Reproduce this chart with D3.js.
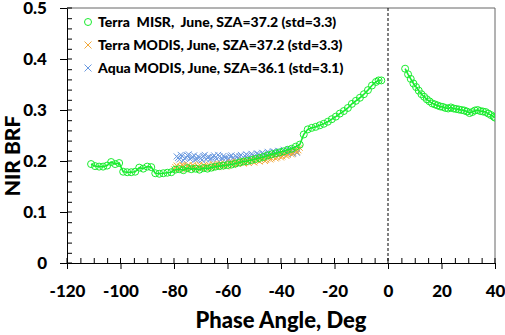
<!DOCTYPE html>
<html>
<head>
<meta charset="utf-8">
<script src="https://cdn.jsdelivr.net/npm/d3@7"></script>
<style>
  body { margin: 0; background: #fff; }
  text { font-family: Lato, "Open Sans", sans-serif; font-weight: 900; fill: #000; }
</style>
</head>
<body>
<svg id="chart"></svg>
<script>
// NIR BRF vs phase angle (June)
const legendLabels = [
    "Terra  MISR,  June, SZA=37.2 (std=3.3)",
    "Terra MODIS, June, SZA=37.2 (std=3.3)",
    "Aqua MODIS, June, SZA=36.1 (std=3.1)"
];
const xTicks = [-120, -100, -80, -60, -40, -20, 0, 20, 40];
const yTicks = [0, 0.1, 0.2, 0.3, 0.4, 0.5];

// Terra MISR, backscatter side (negative phase angle)
const misrLeft = [
    [-111, 0.194], [-109.5, 0.190], [-108, 0.189], [-106.5, 0.189], [-105, 0.191],
    [-103.5, 0.198], [-102, 0.194], [-100.5, 0.196], [-99, 0.179], [-97.5, 0.178],
    [-96, 0.178], [-94.5, 0.179], [-93, 0.187], [-91.5, 0.185], [-90, 0.189],
    [-88.5, 0.188], [-87, 0.176], [-85.5, 0.175], [-84, 0.176], [-82.5, 0.177],
    [-81, 0.178], [-79.5, 0.183], [-78, 0.184], [-76.5, 0.182], [-75, 0.186],
    [-73.5, 0.184], [-72, 0.185], [-70.5, 0.183], [-69, 0.186], [-67.5, 0.185],
    [-66, 0.187], [-64.5, 0.189], [-63, 0.190], [-61.5, 0.191], [-60, 0.192],
    [-58.5, 0.193], [-57, 0.195], [-55.5, 0.197], [-54, 0.199], [-52.5, 0.200],
    [-51, 0.202], [-49.5, 0.204], [-48, 0.206], [-46.5, 0.208], [-45, 0.211],
    [-43.5, 0.213], [-42, 0.215], [-40.5, 0.217], [-39, 0.219], [-37.5, 0.222],
    [-36, 0.224], [-34.5, 0.228], [-33, 0.232], [-31.5, 0.252], [-30, 0.262],
    [-28.5, 0.265], [-27, 0.267], [-25.5, 0.270], [-24, 0.273], [-22.5, 0.277],
    [-21, 0.282], [-19.5, 0.287], [-18, 0.293], [-16.5, 0.298], [-15, 0.304],
    [-13.5, 0.312], [-12, 0.318], [-10.5, 0.324], [-9, 0.331], [-7.5, 0.339],
    [-6, 0.348], [-4.5, 0.355], [-3.5, 0.358], [-2.5, 0.358]
];
// Terra MISR, forward side
const misrRight = [
    [6.4, 0.381], [7.5, 0.370], [8.5, 0.361], [9.5, 0.352], [10.5, 0.345],
    [11.5, 0.338], [12.5, 0.331], [13.5, 0.326], [14.5, 0.321], [15.5, 0.317],
    [16.5, 0.313], [17.5, 0.311], [18.5, 0.309], [19.5, 0.307], [20.5, 0.306],
    [21.5, 0.304], [22.5, 0.303], [23.5, 0.305], [24.5, 0.303], [25.5, 0.302],
    [26.5, 0.301], [27.5, 0.300], [28.5, 0.299], [29.5, 0.297], [30.5, 0.294],
    [31.5, 0.296], [32.5, 0.299], [33.5, 0.300], [34.5, 0.298], [35.5, 0.297],
    [36.5, 0.296], [37.5, 0.293], [38.5, 0.290], [39.5, 0.287], [40, 0.285]
];
const terraModis = [
    [-80, 0.184], [-79, 0.191], [-78, 0.186], [-77, 0.193], [-76, 0.185], [-75, 0.190],
    [-74, 0.187], [-73, 0.192], [-72, 0.184], [-71, 0.190], [-70, 0.186], [-69, 0.191],
    [-68, 0.187], [-67, 0.193], [-66, 0.188], [-65, 0.192], [-64, 0.189], [-63, 0.194],
    [-62, 0.190], [-61, 0.195], [-60, 0.191], [-59, 0.196], [-58, 0.192], [-57, 0.197],
    [-56, 0.194], [-55, 0.198], [-54, 0.195], [-53, 0.200], [-52, 0.196], [-51, 0.201],
    [-50, 0.197], [-49, 0.202], [-48, 0.199], [-47, 0.204], [-46, 0.200], [-45, 0.205],
    [-44, 0.203], [-43, 0.208], [-42, 0.205], [-41, 0.210], [-40, 0.207], [-39, 0.213],
    [-38, 0.210], [-37, 0.216], [-36, 0.213], [-35, 0.220], [-34, 0.218], [-33, 0.226],
    [-79.5, 0.188], [-78.5, 0.183], [-77.5, 0.189], [-76.5, 0.191], [-75.5, 0.183],
    [-74.5, 0.192], [-73.5, 0.186], [-72.5, 0.189], [-71.5, 0.187], [-70.5, 0.193],
    [-69.5, 0.185], [-68.5, 0.190], [-67.5, 0.189], [-66.5, 0.186], [-65.5, 0.194],
    [-64.5, 0.190], [-63.5, 0.188], [-62.5, 0.195], [-61.5, 0.192], [-60.5, 0.189],
    [-59.5, 0.193], [-58.5, 0.198], [-57.5, 0.194], [-56.5, 0.199], [-55.5, 0.196],
    [-54.5, 0.201], [-53.5, 0.197], [-52.5, 0.199], [-51.5, 0.203], [-50.5, 0.199],
    [-49.5, 0.205], [-48.5, 0.201], [-47.5, 0.202], [-46.5, 0.206], [-45.5, 0.202],
    [-44.5, 0.208], [-43.5, 0.205], [-42.5, 0.211], [-41.5, 0.207], [-40.5, 0.213],
    [-39.5, 0.209], [-38.5, 0.215], [-37.5, 0.212], [-36.5, 0.218], [-35.5, 0.216],
    [-34.5, 0.222], [-33.5, 0.221]
];
const aquaModis = [
    [-79, 0.209], [-78, 0.203], [-77, 0.210], [-76, 0.205], [-75, 0.211], [-74, 0.204],
    [-73, 0.208], [-72, 0.202], [-71, 0.209], [-70, 0.205], [-69, 0.210], [-68, 0.203],
    [-67, 0.208], [-66, 0.206], [-65, 0.211], [-64, 0.204], [-63, 0.209], [-62, 0.205],
    [-61, 0.207], [-60, 0.203], [-59, 0.209], [-58, 0.206], [-57, 0.210], [-56, 0.205],
    [-55, 0.212], [-54, 0.207], [-53, 0.213], [-52, 0.208], [-51, 0.214], [-50, 0.209],
    [-49, 0.215], [-48, 0.211], [-47, 0.216], [-46, 0.212], [-45, 0.218], [-44, 0.213],
    [-43, 0.219], [-42, 0.215], [-41, 0.220], [-40, 0.216], [-39, 0.222], [-38, 0.217],
    [-37, 0.223], [-36, 0.218], [-35, 0.221], [-34, 0.216],
    [-78.5, 0.206], [-77.5, 0.212], [-76.5, 0.201], [-75.5, 0.207], [-74.5, 0.213],
    [-73.5, 0.206], [-72.5, 0.211], [-71.5, 0.204], [-70.5, 0.207], [-69.5, 0.202],
    [-68.5, 0.212], [-67.5, 0.207], [-66.5, 0.203], [-65.5, 0.208], [-64.5, 0.207],
    [-63.5, 0.212], [-62.5, 0.202], [-61.5, 0.210], [-60.5, 0.206], [-59.5, 0.204],
    [-58.5, 0.211], [-57.5, 0.203], [-56.5, 0.208], [-55.5, 0.209], [-54.5, 0.204],
    [-53.5, 0.210], [-52.5, 0.211], [-51.5, 0.206], [-50.5, 0.212], [-49.5, 0.207],
    [-48.5, 0.213], [-47.5, 0.209], [-46.5, 0.214], [-45.5, 0.210], [-44.5, 0.216],
    [-43.5, 0.211], [-42.5, 0.218], [-41.5, 0.213], [-40.5, 0.219], [-39.5, 0.214],
    [-38.5, 0.220], [-37.5, 0.216], [-36.5, 0.222], [-35.5, 0.214], [-34.5, 0.219]
];

const W = 505, H = 335;
const green = "#19ec2e", orange = "#f2a93b", blue = "#6b9ae0";
const font = "Lato, 'Open Sans', sans-serif";

const svg = d3.select("#chart").attr("width", W).attr("height", H);

const x = d3.scaleLinear().domain([-120, 40]).range([67, 495]);
const y = d3.scaleLinear().domain([0, 0.5]).range([263, 8]);

svg.append("clipPath").attr("id", "clip")
    .append("rect")
    .attr("x", x(-120)).attr("y", y(0.5))
    .attr("width", x(40) - x(-120)).attr("height", y(0) - y(0.5));

// frame top/right
svg.append("path")
    .attr("d", `M${x(-120)},${y(0.5)}H${x(40)}V${y(0)}`)
    .attr("fill", "none").attr("stroke", "#666").attr("stroke-width", 1);

// dashed line at phase angle 0
svg.append("line")
    .attr("x1", x(0)).attr("x2", x(0))
    .attr("y1", y(0.5)).attr("y2", y(0))
    .attr("stroke", "#000").attr("stroke-width", 1)
    .attr("stroke-dasharray", "3,2");

// minor ticks (inside)
svg.append("g").attr("transform", `translate(0,${y(0)})`)
    .call(d3.axisBottom(x).tickValues(d3.range(-115, 40, 5).filter(v => v % 20 !== 0))
        .tickSize(-5).tickFormat(""))
    .call(g => g.select(".domain").remove());
svg.append("g").attr("transform", `translate(${x(-120)},0)`)
    .call(d3.axisLeft(y).tickValues(d3.range(1, 25).filter(i => i % 5 !== 0).map(i => i * 0.02))
        .tickSize(-5).tickFormat(""))
    .call(g => g.select(".domain").remove());

// major axes
const xAxis = svg.append("g").attr("transform", `translate(0,${y(0)})`)
    .call(d3.axisBottom(x).tickValues(xTicks).tickSize(6).tickSizeOuter(0)
        .tickFormat(d => d < 0 ? "-" + Math.abs(d) : String(d)));
xAxis.selectAll("text").attr("y", 34).attr("dy", 0)
    .attr("font-size", 17).style("font-family", font).style("font-weight", 900).attr("fill", "#000");

const yAxis = svg.append("g").attr("transform", `translate(${x(-120)},0)`)
    .call(d3.axisLeft(y).tickValues(yTicks).tickSize(7).tickSizeOuter(0)
        .tickFormat(d => d === 0 ? "0" : d3.format(".1f")(d)));
yAxis.selectAll("text").attr("x", -20)
    .attr("font-size", 17).style("font-family", font).style("font-weight", 900).attr("fill", "#000");

// inner part of major ticks
svg.append("g").selectAll("line").data(yTicks).enter().append("line")
    .attr("x1", x(-120)).attr("x2", x(-120) + 5)
    .attr("y1", d => y(d)).attr("y2", d => y(d)).attr("stroke", "#000");
svg.append("g").selectAll("line").data(xTicks).enter().append("line")
    .attr("x1", d => x(d)).attr("x2", d => x(d))
    .attr("y1", y(0)).attr("y2", y(0) - 5).attr("stroke", "#000");

// axis titles
svg.append("text")
    .attr("x", (x(-120) + x(40)) / 2).attr("y", 328)
    .attr("text-anchor", "middle").attr("font-size", 22)
    .text("Phase Angle, Deg");
svg.append("text")
    .attr("transform", `translate(20,156) rotate(-90)`)
    .attr("text-anchor", "middle").attr("font-size", 21)
    .text("NIR BRF");

const plot = svg.append("g").attr("clip-path", "url(#clip)");

function crosses(data, color) {
    plot.append("g").selectAll("path").data(data).enter().append("path")
        .attr("transform", d => `translate(${x(d[0])},${y(d[1])})`)
        .attr("d", "M-3,-3L3,3M-3,3L3,-3")
        .attr("stroke", color).attr("stroke-width", 1).attr("fill", "none");
}
crosses(aquaModis, blue);
crosses(terraModis, orange);

const line = d3.line().x(d => x(d[0])).y(d => y(d[1]));
[misrLeft, misrRight].forEach(seg => {
    plot.append("path").datum(seg)
        .attr("d", line).attr("fill", "none")
        .attr("stroke", green).attr("stroke-width", 1.6);
    plot.append("g").selectAll("circle").data(seg).enter().append("circle")
        .attr("cx", d => x(d[0])).attr("cy", d => y(d[1])).attr("r", 3.5)
        .attr("fill", "none").attr("stroke", green).attr("stroke-width", 1);
});

// legend
const legend = svg.selectAll(".legend").data(legendLabels).enter().append("g")
    .attr("class", "legend")
    .attr("transform", (d, i) => `translate(88,${22 + i * 23})`);
legend.each(function (d, i) {
    const g = d3.select(this);
    if (i === 0) {
        g.append("circle").attr("r", 3.5).attr("fill", "none").attr("stroke", green);
    } else {
        g.append("path").attr("d", "M-3.5,-3.5L3.5,3.5M-3.5,3.5L3.5,-3.5")
            .attr("stroke", i === 1 ? orange : blue).attr("fill", "none");
    }
    g.append("text").attr("x", 10).attr("dy", "0.36em").attr("font-size", 14)
        .style("white-space", "pre").text(d);
});
</script>
</body>
</html>
